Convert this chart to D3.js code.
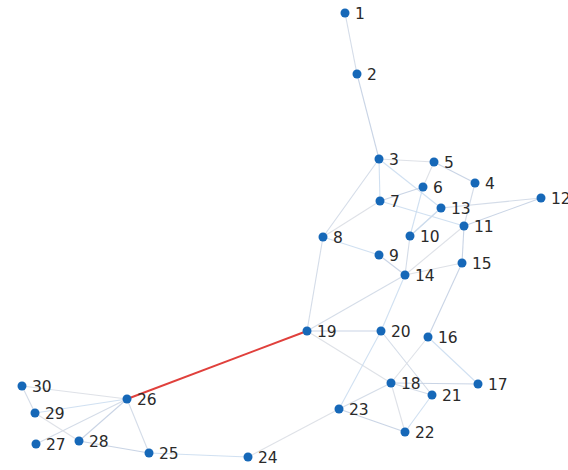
<!DOCTYPE html>
<html><head><meta charset="utf-8">
<script src="https://cdn.jsdelivr.net/npm/d3@7/dist/d3.min.js"></script>
<style>html,body{margin:0;padding:0;background:#fff;overflow:hidden}</style>
</head><body><svg id="c" width="568" height="470"></svg>
<script>
const nodeIds = d3.range(1, 31);
// layout positions (layout units)
const nodeX = [345,357,379,475,434,423,380,323,379,410,464,541,441,405,462,428,478,391,307,381,432,405,339,248,149,127,36,79,35,22];
const nodeY = [13,74,159,183,162,187,201,237,255,236,226,198,208,275,263,337,384,383,331,331,395,432,409,457,453,399,444,441,413,386];
const edgeSource = [1,2,3,3,3,5,5,3,4,7,7,7,13,11,13,6,10,11,11,8,8,9,14,14,14,19,19,20,20,15,16,16,18,18,18,21,23,23,23,24,25,25,26,26,26,28,29,10,30];
const edgeTarget = [2,3,5,7,8,4,6,13,11,6,8,11,12,12,10,10,14,15,14,9,19,14,15,20,19,20,18,23,21,16,18,17,21,17,22,22,18,22,24,25,26,28,30,29,27,26,28,13,29];
const highlightSource = [19];
const highlightTarget = [26];

const svg = d3.select('#c');
const x = d3.scaleLinear().domain(d3.extent(nodeX)).range([22, 541]);
const y = d3.scaleLinear().domain(d3.extent(nodeY)).range([13, 457]);
const nodes = nodeIds.map((id, i) => ({id, x: x(nodeX[i]), y: y(nodeY[i])}));
const byId = new Map(nodes.map(n => [n.id, n]));
const edges = edgeSource.map((s, i) => ({s: byId.get(s), t: byId.get(edgeTarget[i])}));
const hl = highlightSource.map((s, i) => ({s: byId.get(s), t: byId.get(highlightTarget[i])}));

const edgeColors = ['#cdd6e4', '#bfcde0', '#d8dce3', '#c8dbef'];
svg.append('g').selectAll('line').data(edges).join('line')
  .attr('x1', d => d.s.x).attr('y1', d => d.s.y)
  .attr('x2', d => d.t.x).attr('y2', d => d.t.y)
  .attr('stroke', (d, i) => edgeColors[i % edgeColors.length])
  .attr('stroke-width', 1.1).attr('stroke-opacity', 0.85);
svg.append('g').selectAll('line').data(hl).join('line')
  .attr('x1', d => d.s.x).attr('y1', d => d.s.y)
  .attr('x2', d => d.t.x).attr('y2', d => d.t.y)
  .attr('stroke', '#e0403c').attr('stroke-width', 2);
svg.append('g').selectAll('circle').data(nodes).join('circle')
  .attr('cx', d => d.x).attr('cy', d => d.y).attr('r', 4.5)
  .attr('fill', '#1668b8');
svg.append('g').selectAll('text').data(nodes).join('text')
  .attr('x', d => d.x + 10).attr('y', d => d.y + 5.5)
  .attr('font-family', 'DejaVu Sans, sans-serif').attr('font-size', 15.5)
  .attr('fill', '#2a2a2a').text(d => d.id);
</script></body></html>
